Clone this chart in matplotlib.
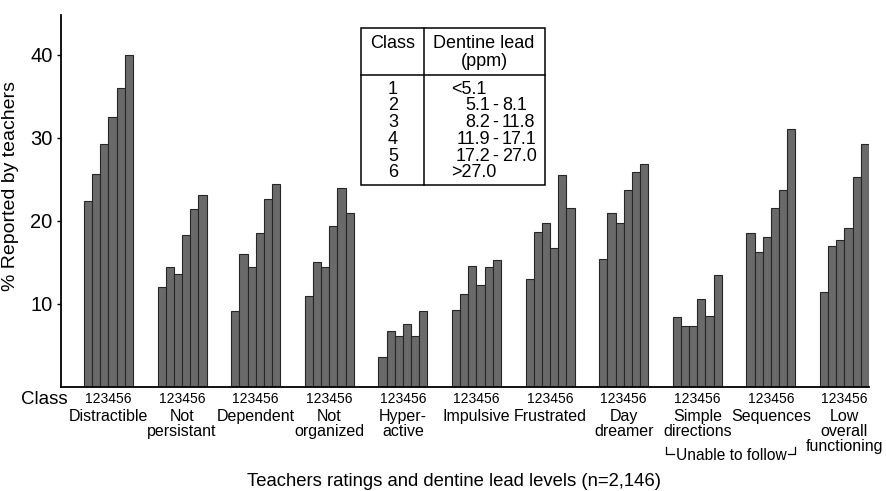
import matplotlib
matplotlib.use('Agg')
import matplotlib.pyplot as plt
from matplotlib.lines import Line2D
from matplotlib.patches import Rectangle
import numpy as np

plt.rcParams['font.family'] = ['Liberation Sans', 'DejaVu Sans']

# ratings (x groups)
categories = ['Distractible', 'Not\npersistant', 'Dependent', 'Not\norganized', 'Hyper-\nactive',
              'Impulsive', 'Frustrated', 'Day\ndreamer', 'Simple\ndirections', 'Sequences',
              'Low\noverall\nfunctioning']

# % reported by teachers, one list per dentine lead class
class1 = [22.4, 12.1, 9.2, 11.0, 3.6, 9.3, 13.0, 15.4, 8.4, 18.6, 11.4]
class2 = [25.7, 14.5, 16.0, 15.0, 6.7, 11.2, 18.7, 21.0, 7.3, 16.2, 17.0]
class3 = [29.3, 13.6, 14.5, 14.5, 6.2, 14.6, 19.7, 19.7, 7.3, 18.1, 17.7]
class4 = [32.5, 18.3, 18.6, 19.4, 7.6, 12.3, 16.7, 23.7, 10.6, 21.5, 19.2]
class5 = [36.0, 21.4, 22.7, 24.0, 6.1, 14.5, 25.5, 25.9, 8.5, 23.7, 25.3]
class6 = [40.0, 23.1, 24.5, 21.0, 9.1, 15.3, 21.6, 26.9, 13.5, 31.1, 29.3]

# legend table
class_ids = ['1', '2', '3', '4', '5', '6']
lead_ranges = ['<5.1', '5.1 - 8.1', '8.2 - 11.8', '11.9 - 17.1', '17.2 - 27.0', '>27.0']

W, H = 887, 491
fig = plt.figure(figsize=(W / 100, H / 100), dpi=100)
ax = fig.add_axes([61 / W, 1 - 387 / H, (869 - 61) / W, (387 - 15) / H])

def fpx(x, y):
    # pixel position -> figure fraction
    return x / W, 1 - y / H

series = [class1, class2, class3, class4, class5, class6]
x = np.arange(len(categories))
w = 0.111
for k, vals in enumerate(series):
    ax.bar(x + (k - 2.5) * w, vals, width=w, color='#6a6a6a', edgecolor='#262626', linewidth=0.8)

ax.set_xlim(-0.645, 10.333)
ax.set_ylim(0, 44.8)
ax.set_yticks([10, 20, 30, 40])
ax.set_xticks([])
ax.tick_params(axis='y', labelsize=14.5, length=3, width=1, direction='out', pad=3)
for s in ['top', 'right']:
    ax.spines[s].set_visible(False)
for s in ['left', 'bottom']:
    ax.spines[s].set_linewidth(1.3)
ax.set_ylabel('% Reported by teachers', fontsize=14)
ax.yaxis.set_label_coords(-0.052, 0.54)

# group labels below axis
trans = ax.get_xaxis_transform()
for i, name in enumerate(categories):
    ax.text(i, -12 / 372, ''.join(class_ids), transform=trans, ha='center', va='center', fontsize=10)
    ax.text(i, -22 / 372, name, transform=trans, ha='center', va='top', fontsize=11.5,
            linespacing=1.0)

fig.text(*fpx(44, 400), 'Class', ha='center', va='center', fontsize=13.5)

# "Unable to follow" bracket
fig.text(*fpx(731, 456), 'Unable to follow', ha='center', va='center', fontsize=11.2)
for xs, ys in [([666, 666, 674], [447, 454, 454]), ([788, 795, 795], [454, 454, 447])]:
    fig.add_artist(Line2D([p / W for p in xs], [1 - p / H for p in ys], color='black', lw=0.9))

fig.text(*fpx(454, 481), 'Teachers ratings and dentine lead levels (n=2,146)',
         ha='center', va='center', fontsize=13.3)

# table box
tfs = 13
x0, x1, xm, y0, y1, ym = 361, 545, 424, 28, 185, 75
fig.add_artist(Rectangle(fpx(x0, y1), (x1 - x0) / W, (y1 - y0) / H, transform=fig.transFigure,
                         fill=False, edgecolor='black', lw=1.1))
fig.add_artist(Line2D([xm / W, xm / W], [1 - y0 / H, 1 - y1 / H], color='black', lw=1.1))
fig.add_artist(Line2D([x0 / W, x1 / W], [1 - ym / H, 1 - ym / H], color='black', lw=1.1))
fig.text(*fpx(393, 44), 'Class', ha='center', va='center', fontsize=tfs)
fig.text(*fpx(484, 44), 'Dentine lead', ha='center', va='center', fontsize=tfs)
fig.text(*fpx(484, 62), '(ppm)', ha='center', va='center', fontsize=tfs)
for r, (cid, rng) in enumerate(zip(class_ids, lead_ranges)):
    yy = 89 + r * 16.8
    fig.text(*fpx(393, yy), cid, ha='center', va='center', fontsize=tfs)
    if ' - ' in rng:
        lo, hi = rng.split(' - ')
        fig.text(*fpx(490, yy), lo, ha='right', va='center', fontsize=tfs)
        fig.text(*fpx(495.5, yy), '-', ha='center', va='center', fontsize=tfs)
        fig.text(*fpx(502, yy), hi, ha='left', va='center', fontsize=tfs)
    else:
        fig.text(*fpx(451, yy), rng, ha='left', va='center', fontsize=tfs)

fig.savefig('out.png', dpi=100)
